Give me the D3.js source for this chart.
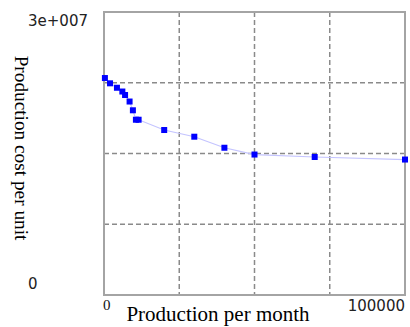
<!DOCTYPE html>
<html>
<head>
<meta charset="utf-8">
<script src="https://cdn.jsdelivr.net/npm/d3@7/dist/d3.min.js"></script>
<style>
  html, body { margin: 0; padding: 0; background: #fff; }
  svg { display: block; }
</style>
</head>
<body>
<svg id="chart" width="410" height="327"></svg>
<script>
// Monthly production volume vs. cost per unit
const production = [300, 2000, 4300, 6100, 7000, 8500, 9600, 10600, 11500, 20000, 30000, 40000, 50000, 70000, 100000];
const costPerUnit = [23.0e6, 22.44e6, 21.97e6, 21.57e6, 21.2e6, 20.51e6, 19.58e6, 18.58e6, 18.58e6, 17.49e6, 16.78e6, 15.61e6, 14.89e6, 14.63e6, 14.36e6];

const xTickLabels = ["0", "100000"];
const yTickLabels = ["0", "3e+007"];
const xGridValues = [25000, 50000, 75000];
const yGridValues = [7.5e6, 15e6, 22.5e6];

const svg = d3.select("#chart");
const plot = { left: 104, right: 405, top: 12, bottom: 295 };

const x = d3.scaleLinear().domain([0, 100000]).range([plot.left, plot.right]);
const y = d3.scaleLinear().domain([0, 3e7]).range([plot.bottom, plot.top]);

// dashed grid
svg.append("g").selectAll("line").data(xGridValues).join("line")
  .attr("x1", d => x(d)).attr("x2", d => x(d))
  .attr("y1", plot.top).attr("y2", plot.bottom)
  .attr("stroke", "#8a8a8a").attr("stroke-width", 1.5).attr("stroke-dasharray", "5,3");
svg.append("g").selectAll("line").data(yGridValues).join("line")
  .attr("x1", plot.left).attr("x2", plot.right)
  .attr("y1", d => y(d)).attr("y2", d => y(d))
  .attr("stroke", "#8a8a8a").attr("stroke-width", 1.5).attr("stroke-dasharray", "5,3");

// frame
svg.append("rect")
  .attr("x", plot.left).attr("y", plot.top)
  .attr("width", plot.right - plot.left).attr("height", plot.bottom - plot.top)
  .attr("fill", "none").attr("stroke", "#a4a4a4").attr("stroke-width", 2);

// connecting line
const pts = production.map((p, i) => [p, costPerUnit[i]]);
svg.append("path")
  .datum(pts)
  .attr("fill", "none")
  .attr("stroke", "#c4c4ff")
  .attr("stroke-width", 1.2)
  .attr("d", d3.line().x(d => x(d[0])).y(d => y(d[1])));

// markers
const m = 6;
svg.append("g").selectAll("rect").data(pts).join("rect")
  .attr("x", d => x(d[0]) - m / 2)
  .attr("y", d => y(d[1]) - m / 2)
  .attr("width", m).attr("height", m)
  .attr("fill", "#0000ff");

// tick labels
const sans = "DejaVu Sans, sans-serif";
const serif = "Liberation Serif, Times New Roman, serif";
svg.append("text").attr("x", 28).attr("y", 26)
  .attr("font-family", sans).attr("font-size", 15).attr("fill", "#222")
  .text(yTickLabels[1]);
svg.append("text").attr("x", 28).attr("y", 289)
  .attr("font-family", sans).attr("font-size", 15).attr("fill", "#222")
  .text(yTickLabels[0]);
svg.append("text").attr("x", 103).attr("y", 310)
  .attr("font-family", serif).attr("font-size", 15).attr("fill", "#111")
  .text(xTickLabels[0]);
svg.append("text").attr("x", 405).attr("y", 311).attr("text-anchor", "end")
  .attr("font-family", sans).attr("font-size", 15).attr("fill", "#222")
  .text(xTickLabels[1]);

// axis titles
svg.append("text").attr("x", 218).attr("y", 321).attr("text-anchor", "middle")
  .attr("font-family", serif).attr("font-size", 21).attr("fill", "#000")
  .text("Production per month");
svg.append("text")
  .attr("transform", "translate(15,148) rotate(90)")
  .attr("text-anchor", "middle")
  .attr("font-family", serif).attr("font-size", 19.3).attr("fill", "#000")
  .text("Production cost per unit");
</script>
</body>
</html>
